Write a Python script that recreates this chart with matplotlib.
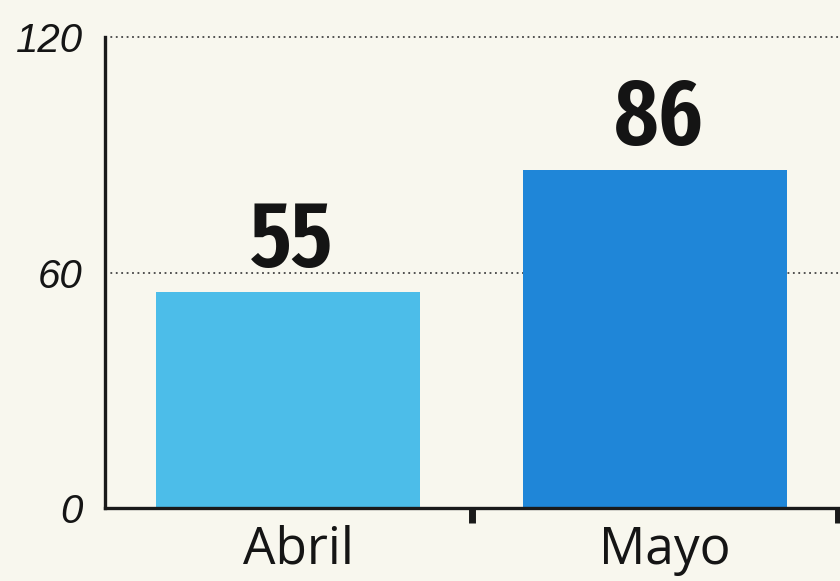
import matplotlib
matplotlib.use("Agg")
import matplotlib.pyplot as plt
from matplotlib import font_manager as fm
from matplotlib import transforms

categories = ["Abril", "Mayo"]
values = [55, 86]
yticks = [0, 60, 120]
bar_colors = ["#4cbde9", "#1f86d8"]

# find the narrowest semibold/bold face that is installed
def pick_condensed():
    best = None
    for f in fm.fontManager.ttflist:
        nm = f.name.replace(" ", "").lower()
        st = str(f.stretch).lower()
        score = 0
        if "extracondensed" in nm or "ultracondensed" in nm or st in ("extra-condensed", "ultra-condensed"):
            score += 300
        elif "narrow" in nm or "condensed" in nm or st == "condensed":
            score += 200
        elif "semicondensed" in nm or st == "semi-condensed":
            score += 100
        else:
            continue
        w = f.weight if isinstance(f.weight, int) else (700 if "bold" in str(f.weight).lower() else 400)
        score -= abs(w - 620) / 10
        if "italic" in f.style or "oblique" in f.style:
            score -= 1000
        if best is None or score > best[0]:
            best = (score, f.fname, f.name)
    return best

cond = pick_condensed()
if cond:
    val_fp = fm.FontProperties(fname=cond[1], size=67)
else:
    val_fp = fm.FontProperties(family="DejaVu Sans", size=50, weight="bold")

bg = "#f8f7ee"
fig = plt.figure(figsize=(8.4, 5.81), dpi=100, facecolor=bg)
ax = fig.add_axes([0.125, 0.1256, 0.875, 0.8107])
ax.set_facecolor(bg)

x = list(range(len(categories)))
ax.bar(x, values, width=0.72, color=bar_colors, zorder=2)

ax.set_xlim(-0.5, 1.505)
ax.set_ylim(0, 120)

for y in yticks[1:]:
    ax.axhline(y, color="#444444", lw=1.3, ls=(0, (1, 2.0)), zorder=1, clip_on=False)

for s in ["top", "right"]:
    ax.spines[s].set_visible(False)
for s in ["left", "bottom"]:
    ax.spines[s].set_linewidth(2.4)
    ax.spines[s].set_color("#1a1a1a")

ax.set_yticks(yticks)
ax.set_yticklabels([str(v) for v in yticks], fontsize=29, fontstyle="italic",
                   family=["Liberation Sans", "DejaVu Sans"], color="#151515")
ax.tick_params(axis="y", length=0, pad=16)

ax.set_xticks(x)
ax.set_xticklabels(categories, fontsize=37, family=["Open Sans", "DejaVu Sans"], color="#151515")
ax.tick_params(axis="x", which="major", length=0, pad=12)
shift = transforms.ScaledTranslation(10 / 100, 0, fig.dpi_scale_trans)
for lab in ax.get_xticklabels():
    lab.set_transform(lab.get_transform() + shift)
ax.set_xticks([0.5, 1.5], minor=True)
ax.tick_params(axis="x", which="minor", length=11, width=5, color="#1a1a1a", direction="out")

for xi, v in zip(x, values):
    ax.text(xi + 0.01, v + 6.4, str(v), ha="center", va="baseline", fontproperties=val_fp,
            color="#141414")

fig.savefig("out.png", dpi=100, facecolor=bg)
